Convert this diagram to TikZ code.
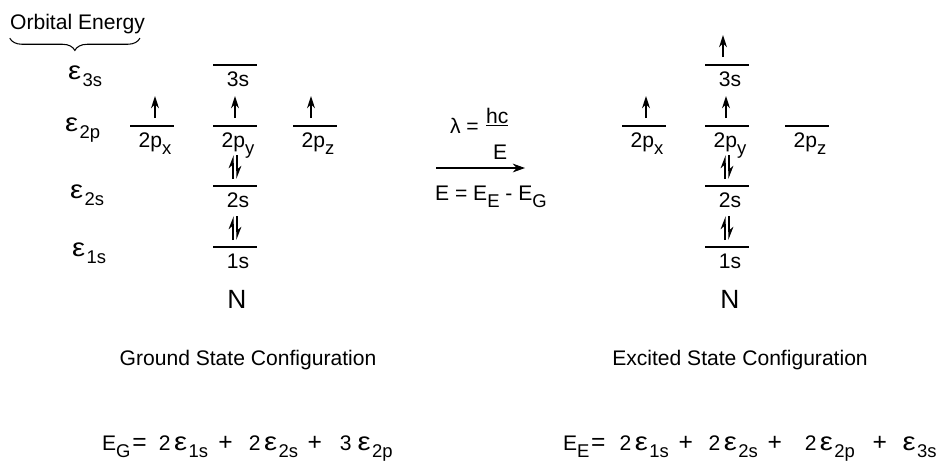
\documentclass[tikz,border=0pt]{standalone}
\usepackage{fontspec}
\setmainfont{Liberation Sans}
\usetikzlibrary{arrows.meta,decorations.pathreplacing,positioning}

\newcommand{\lsub}[1]{\raisebox{-4pt}{\fontsize{10.5}{12}\selectfont #1}}
\newcommand{\epsl}{\scalebox{1.15}[1]{\fontsize{14.5}{16}\selectfont ε}\hspace{0.8pt}}
\newcommand{\opf}[1]{{\fontsize{14}{16}\selectfont #1}}

\begin{document}
\begin{tikzpicture}[x=0.02cm, y=-0.02cm, >=Stealth,
  every node/.style={font=\fontsize{12}{14}\selectfont, inner sep=1pt},
  lvl/.style={line width=0.75pt},
  orb/.style={anchor=north},
  eps/.style={anchor=base west},
  spin/.style={line width=0.9pt, -{Stealth[length=7pt, width=4.5pt]}},
  half/.style={line width=0.8pt, -{Stealth[harpoon, length=6.5pt, width=5pt]}}]
  \useasboundingbox (0,0) rectangle (939,461);

  % energy axis
  \node[eps] (orbE) at (8,29) {Orbital Energy};
  \draw[decorate, decoration={brace, amplitude=7pt}, line width=0.6pt]
    ([xshift=-4pt, yshift=-1.5pt]orbE.south east) -- ([xshift=1pt, yshift=-1.5pt]orbE.south west);
  \node[eps] (e3s) at (66,79) {\epsl\lsub{3s}};
  \node[eps] (e2p) at (63,131) {\epsl\lsub{2p}};
  \node[eps] (e2s) at (68,198) {\epsl\lsub{2s}};
  \node[eps] (e1s) at (70,256) {\epsl\lsub{1s}};

  % levels, ground (g) and excited (x)
  \foreach \x/\y/\lab/\nm in {235/65/3s/g3s, 152/126/2p\lsub{x}/g2px,
      235/126/2p\lsub{y}/g2py, 315/126/2p\lsub{z}/g2pz, 235/186/2s/g2s,
      235/247/1s/g1s, 727/65/3s/x3s, 644/126/2p\lsub{x}/x2px,
      727/126/2p\lsub{y}/x2py, 807/126/2p\lsub{z}/x2pz, 727/186/2s/x2s,
      727/247/1s/x1s} {
    \draw[lvl] (\x-22,\y) -- (\x+22,\y);
    \node[orb] (\nm) at (\x+3,\y+5) {\lab};
  }

  % electrons
  \foreach \x/\y in {155/126, 235/126, 311/126, 646/126, 726/126, 723/65}
    \draw[spin] (\x,\y-8) -- (\x,\y-30);
  \foreach \x/\y in {235/186, 235/247, 727/186, 727/247} {
    \draw[half] (\x-2,\y-7) -- (\x-2,\y-31);
    \draw[half] (\x+2,\y-31) -- (\x+2,\y-7);
  }

  \node[anchor=base, font=\fontsize{15}{17}\selectfont] (gN) at (237,308) {N};
  \node[anchor=base, font=\fontsize{15}{17}\selectfont] (xN) at (730,308) {N};

  % transition
  \coordinate (rxA) at (436,168);
  \coordinate (rxB) at (525,168);
  \draw[line width=0.6pt, -{Stealth[length=7pt, width=5pt]}] (rxA) -- (rxB);
  \node[eps] (lam) at (448,133) {λ =};
  \node[eps] (hc) at (484,123) {\underline{hc}};
  \node[eps] (Eden) at (491,159) {E};
  \node[eps] (dE) at (433,200) {E = E\lsub{E} - E\lsub{G}};

  \node[anchor=base] (gCap) at (248,365) {Ground State Configuration};
  \node[anchor=base] (xCap) at (740,365) {Excited State Configuration};

  \node[eps] (gSum) at (100,450) {E\lsub{G}\hspace{1pt}\opf{=}\hspace{7pt}2\hspace{2pt}\epsl\lsub{1s}\hspace{5.9pt}\opf{+}\hspace{9.1pt}2\hspace{2pt}\epsl\lsub{2s}\hspace{5.4pt}\opf{+}\hspace{10.2pt}3\hspace{3.5pt}\epsl\lsub{2p}};
  \node[eps] (xSum) at (561,450) {E\lsub{E}\hspace{1pt}\opf{=}\hspace{8pt}2\hspace{2pt}\epsl\lsub{1s}\hspace{5.5pt}\opf{+}\hspace{9pt}2\hspace{2pt}\epsl\lsub{2s}\hspace{5.5pt}\opf{+}\hspace{13pt}2\hspace{2pt}\epsl\lsub{2p}\hspace{10pt}\opf{+}\hspace{9pt}\epsl\lsub{3s}};
\end{tikzpicture}
\end{document}
